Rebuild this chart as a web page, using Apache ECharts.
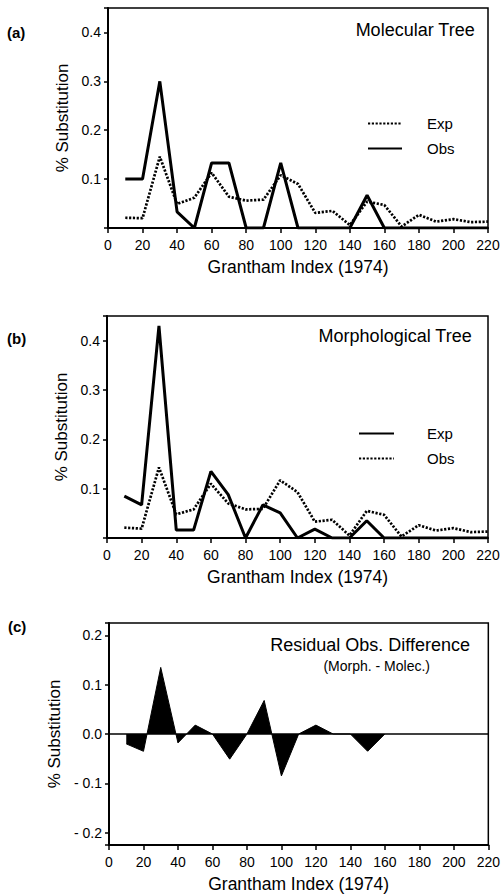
<!DOCTYPE html>
<html>
<head>
<meta charset="utf-8">
<script src="https://cdn.jsdelivr.net/npm/echarts@6/dist/echarts.min.js"></script>
<style>
html,body{margin:0;padding:0;background:#fff;}
#chart{width:503px;height:896px;}
</style>
</head>
<body>
<div id="chart"></div>
<script>
// Grantham index categories (x positions)
const granthamX = [10,20,30,40,50,60,70,80,90,100,110,120,130,140,150,160,170,180,190,200,210,220];
const xTicks = [0,20,40,60,80,100,120,140,160,180,200,220];
// Panel (a) Molecular Tree
const molecExp = [0.021,0.02,0.146,0.049,0.062,0.113,0.064,0.056,0.058,0.108,0.09,0.031,0.035,0.006,0.054,0.047,0.003,0.027,0.013,0.018,0.012,0.013];
const molecObs = [0.1,0.1,0.3,0.033,0,0.133,0.133,0,0,0.133,0,0,0,0,0.067,0,0,0,0,0,0,0];
// Panel (b) Morphological Tree
const morphExp = [0.085,0.067,0.43,0.016,0.016,0.135,0.088,0,0.067,0.051,0,0.018,0,0,0.035,0,0,0,0,0,0,0];
const morphObs = [0.021,0.019,0.143,0.048,0.058,0.11,0.07,0.058,0.059,0.117,0.093,0.033,0.037,0.005,0.055,0.047,0.003,0.026,0.015,0.02,0.012,0.013];
// Panel (c) Residual Obs. Difference (Morph. - Molec.)
const residualX = [10,20,30,40,50,60,70,80,90,100,110,120,130,140,150,160];
const residual = [-0.02,-0.035,0.135,-0.018,0.018,0,-0.051,0,0.068,-0.085,0,0.018,0,0,-0.035,0];

const FONT = '"Liberation Sans", Arial, sans-serif';
const pair = (xs, ys) => xs.map((x, i) => [x, ys[i]]);
const isTenth = v => Math.abs(v * 10 - Math.round(v * 10)) < 1e-6;

function xAxisFor(i) {
  return {
    gridIndex: i, type: 'value', min: 0, max: 220, interval: 20,
    name: 'Grantham Index (1974)', nameLocation: 'middle', nameGap: 30,
    nameTextStyle: {fontFamily: FONT, fontSize: 17.5, color: '#000'},
    axisLine: {onZero: false, lineStyle: {color: '#000', width: 2}},
    axisTick: {show: true, length: 5, lineStyle: {color: '#000', width: 1.5}},
    axisLabel: {margin: 10, fontFamily: FONT, fontSize: 14, color: '#000'},
    splitLine: {show: false}
  };
}
function yAxisFor(i, min, max, signed) {
  const ax = {
    gridIndex: i, type: 'value', min: min, max: max,
    name: '% Substitution', nameLocation: 'middle', nameGap: 36,
    nameTextStyle: {fontFamily: FONT, fontSize: 17, color: '#000'},
    axisLine: {onZero: false, lineStyle: {color: '#000', width: 2}},
    axisTick: {show: true, length: 4, lineStyle: {color: '#000', width: 1.5}},
    axisLabel: {margin: 7, fontFamily: FONT, fontSize: 14, color: '#000',
      formatter: v => {
        if (!isTenth(v)) return '';
        if (!signed && Math.abs(v) < 1e-9) return '';
        if (v < -1e-9) return '- ' + Math.abs(v).toFixed(1);
        return Math.abs(v).toFixed(1);
      }},
    splitLine: {show: false}
  };
  if (signed) { ax.splitNumber = 4; } else { ax.interval = 0.1; }
  return ax;
}
const dotted = {color: '#000', width: 2.7, type: [2.2, 1.6]};
const solid = {color: '#000', width: 3};
const hiddenSymbol = {color: 'rgba(0,0,0,0)', borderColor: 'rgba(0,0,0,0)', borderWidth: 0};

const option = {
  backgroundColor: '#fff',
  animation: false,
  grid: [
    {left: 108, right: 15, top: 8, height: 220, show: true, borderColor: '#000', borderWidth: 1.5},
    {left: 107, right: 15, top: 316, height: 222, show: true, borderColor: '#000', borderWidth: 1.5},
    {left: 109, right: 14, top: 623, height: 222, show: true, borderColor: '#000', borderWidth: 1.5}
  ],
  xAxis: [xAxisFor(0), xAxisFor(1), xAxisFor(2)],
  yAxis: [yAxisFor(0, 0, 0.45, false), yAxisFor(1, 0, 0.45, false), yAxisFor(2, -0.225, 0.225, true)],
  legend: [
    {data: ['Exp', 'Obs'], orient: 'vertical', left: 367, top: 116, padding: 0,
     itemWidth: 34, itemHeight: 14, itemGap: 10, itemStyle: hiddenSymbol,
     textStyle: {fontFamily: FONT, fontSize: 15, color: '#000', padding: [0, 0, 0, 20]}},
    {data: ['Exp (b)', 'Obs (b)'], orient: 'vertical', left: 358, top: 426, padding: 0,
     itemWidth: 35, itemHeight: 14, itemGap: 10, itemStyle: hiddenSymbol,
     formatter: n => n.replace(' (b)', ''),
     textStyle: {fontFamily: FONT, fontSize: 15, color: '#000', padding: [0, 0, 0, 28]}}
  ],
  graphic: [
    {type: 'text', left: 7, top: 25, style: {text: '(a)', font: 'bold 15px ' + FONT, fill: '#000'}},
    {type: 'text', left: 7, top: 331, style: {text: '(b)', font: 'bold 15px ' + FONT, fill: '#000'}},
    {type: 'text', left: 8, top: 619, style: {text: '(c)', font: 'bold 15px ' + FONT, fill: '#000'}},
    {type: 'text', right: 28, top: 21, style: {text: 'Molecular Tree', font: '18px ' + FONT, fill: '#000'}},
    {type: 'text', right: 31, top: 327, style: {text: 'Morphological Tree', font: '18px ' + FONT, fill: '#000'}},
    {type: 'text', right: 33, top: 636, style: {text: 'Residual Obs. Difference', font: '18px ' + FONT, fill: '#000'}},
    {type: 'text', right: 73, top: 659, style: {text: '(Morph. - Molec.)', font: '14px ' + FONT, fill: '#000'}}
  ],
  series: [
    {name: 'Exp', type: 'line', xAxisIndex: 0, yAxisIndex: 0, data: pair(granthamX, molecExp),
     symbol: 'none', lineStyle: dotted, itemStyle: {color: '#000'}, z: 3},
    {name: 'Obs', type: 'line', xAxisIndex: 0, yAxisIndex: 0, data: pair(granthamX, molecObs),
     symbol: 'none', lineStyle: solid, itemStyle: {color: '#000'}, z: 4},
    {name: 'Exp (b)', type: 'line', xAxisIndex: 1, yAxisIndex: 1, data: pair(granthamX, morphExp),
     symbol: 'none', lineStyle: solid, itemStyle: {color: '#000'}, z: 4},
    {name: 'Obs (b)', type: 'line', xAxisIndex: 1, yAxisIndex: 1, data: pair(granthamX, morphObs),
     symbol: 'none', lineStyle: dotted, itemStyle: {color: '#000'}, z: 3},
    {name: 'Residual', type: 'line', xAxisIndex: 2, yAxisIndex: 2, data: pair(residualX, residual),
     symbol: 'none', lineStyle: {color: '#000', width: 1}, areaStyle: {color: '#000', opacity: 1, origin: 0},
     itemStyle: {color: '#000'},
     markLine: {silent: true, symbol: 'none', label: {show: false},
       lineStyle: {color: '#000', width: 1.5, type: 'solid'}, data: [{yAxis: 0}]}}
  ]
};
const chart = echarts.init(document.getElementById('chart'), null, {renderer: 'svg'});
chart.setOption(option);
</script>
</body>
</html>
